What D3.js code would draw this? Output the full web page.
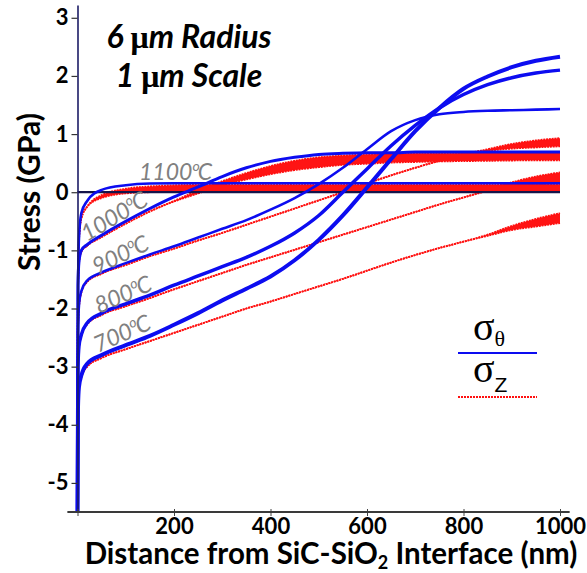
<!DOCTYPE html>
<html>
<head>
<meta charset="utf-8">
<script src="https://cdn.jsdelivr.net/npm/d3@7"></script>
<style>
  body { margin: 0; background: #fff; }
  svg { display: block; }
</style>
</head>
<body>
<div id="chart"></div>
<script>
// distance from the SiC-SiO2 interface (nm)
const distances = [0, 1, 3, 8, 20, 50, 100, 150, 200, 250, 300, 350, 400, 450, 500, 550, 600, 650, 700, 750, 800, 850, 900, 950, 1000];
const temperatures = ['700', '800', '900', '1000', '1100'];

// sigma theta (GPa), blue
const hoop700  = [-5.5, -3.7, -3.35, -3.15, -2.95, -2.8, -2.63, -2.47, -2.28, -2.08, -1.86, -1.66, -1.45, -1.17, -0.82, -0.4, 0.08, 0.57, 1.05, 1.45, 1.78, 1.99, 2.15, 2.26, 2.33];
const hoop800  = [-5.5, -3.0, -2.65, -2.45, -2.25, -2.08, -1.92, -1.77, -1.6, -1.44, -1.28, -1.12, -0.93, -0.7, -0.4, 0.0, 0.4, 0.8, 1.15, 1.45, 1.68, 1.85, 1.97, 2.05, 2.1];
const hoop900  = [-5.5, -2.4, -1.95, -1.7, -1.52, -1.38, -1.22, -1.07, -0.93, -0.78, -0.63, -0.48, -0.3, -0.1, 0.14, 0.42, 0.74, 1.05, 1.24, 1.34, 1.38, 1.4, 1.41, 1.42, 1.43];
const hoop1000 = [-5.5, -1.6, -1.2, -1.0, -0.9, -0.74, -0.5, -0.28, -0.08, 0.09, 0.27, 0.42, 0.53, 0.6, 0.65, 0.67, 0.68, 0.68, 0.69, 0.69, 0.69, 0.69, 0.69, 0.69, 0.69];
const hoop1100 = [-5.5, -1.8, -0.8, -0.36, -0.15, 0.04, 0.12, 0.15, 0.155, 0.155, 0.155, 0.155, 0.155, 0.155, 0.155, 0.155, 0.155, 0.155, 0.155, 0.155, 0.155, 0.155, 0.155, 0.155, 0.155];

// sigma z (GPa), red: lower and upper edge of each band
const axial700Lo  = [-5.5, -3.7, -3.37, -3.18, -3.0, -2.85, -2.7, -2.56, -2.42, -2.28, -2.14, -2.0, -1.88, -1.75, -1.62, -1.49, -1.35, -1.21, -1.08, -0.96, -0.85, -0.75, -0.65, -0.59, -0.53];
const axial700Hi  = [-5.5, -3.7, -3.37, -3.18, -3.0, -2.85, -2.7, -2.56, -2.42, -2.28, -2.14, -2.0, -1.88, -1.75, -1.62, -1.49, -1.35, -1.21, -1.08, -0.96, -0.85, -0.73, -0.58, -0.46, -0.36];
const axial800Lo  = [-5.5, -3.0, -2.67, -2.47, -2.27, -2.11, -1.96, -1.82, -1.67, -1.53, -1.39, -1.25, -1.12, -0.99, -0.86, -0.73, -0.6, -0.47, -0.34, -0.21, -0.09, 0.02, 0.09, 0.13, 0.15];
const axial800Hi  = [-5.5, -3.0, -2.67, -2.47, -2.27, -2.11, -1.96, -1.82, -1.67, -1.53, -1.39, -1.25, -1.12, -0.99, -0.86, -0.73, -0.6, -0.47, -0.34, -0.21, -0.09, 0.04, 0.17, 0.27, 0.34];
const axial900Lo  = [-5.5, -2.4, -1.97, -1.72, -1.54, -1.4, -1.25, -1.1, -0.97, -0.83, -0.7, -0.56, -0.42, -0.28, -0.14, 0.0, 0.15, 0.29, 0.42, 0.54, 0.64, 0.71, 0.75, 0.77, 0.79];
const axial900Hi  = [-5.5, -2.4, -1.97, -1.72, -1.54, -1.4, -1.25, -1.1, -0.97, -0.83, -0.7, -0.56, -0.42, -0.28, -0.14, 0.0, 0.15, 0.29, 0.42, 0.54, 0.65, 0.74, 0.83, 0.89, 0.93];
const axial1000Lo = [-5.5, -1.6, -1.22, -1.02, -0.92, -0.77, -0.54, -0.33, -0.16, -0.02, 0.12, 0.22, 0.31, 0.38, 0.43, 0.47, 0.49, 0.51, 0.52, 0.53, 0.535, 0.54, 0.545, 0.55, 0.55];
const axial1000Hi = [-5.5, -1.6, -1.22, -1.02, -0.92, -0.77, -0.54, -0.33, -0.15, 0.03, 0.19, 0.33, 0.45, 0.54, 0.6, 0.63, 0.65, 0.66, 0.67, 0.67, 0.675, 0.675, 0.68, 0.68, 0.68];
const axial1100Lo = [-5.5, -1.8, -0.82, -0.45, -0.25, -0.1, -0.02, 0.0, 0.01, 0.02, 0.02, 0.02, 0.02, 0.02, 0.02, 0.02, 0.02, 0.02, 0.02, 0.02, 0.02, 0.02, 0.02, 0.02, 0.02];
const axial1100Hi = [-5.5, -1.8, -0.82, -0.45, -0.25, -0.05, 0.06, 0.1, 0.12, 0.13, 0.13, 0.13, 0.13, 0.13, 0.13, 0.13, 0.13, 0.13, 0.13, 0.13, 0.13, 0.13, 0.13, 0.13, 0.13];

const xTicks = [0, 200, 400, 600, 800, 1000];
const yTicks = [-5, -4, -3, -2, -1, 0, 1, 2, 3];

const hoop = [hoop700, hoop800, hoop900, hoop1000, hoop1100];
const axialLo = [axial700Lo, axial800Lo, axial900Lo, axial1000Lo, axial1100Lo];
const axialHi = [axial700Hi, axial800Hi, axial900Hi, axial1000Hi, axial1100Hi];
const hoopWidth = [4, 3.5, 2.6, 3, 2.6];

const font = 'Lato, "Open Sans", sans-serif';
const width = 587, height = 573;

const svg = d3.select('#chart').append('svg')
    .attr('width', width)
    .attr('height', height);

const x = d3.scaleLinear().domain([0, 1000]).range([77.5, 560]);
const y = d3.scaleLinear().domain([-5.5, 3.22]).range([512, 5]);

const line = d3.line().x(d => x(d[0])).y(d => y(d[1])).curve(d3.curveMonotoneX);
const area = d3.area().x(d => x(d[0])).y0(d => y(d[1])).y1(d => y(d[2])).curve(d3.curveMonotoneX);

// sigma z bands
temperatures.forEach((t, i) => {
    const band = distances.map((d, j) => [d, axialLo[i][j], axialHi[i][j]]);
    svg.append('path')
        .attr('d', area(band))
        .attr('fill', '#ff1414')
        .attr('stroke', 'none');
    [axialLo[i], axialHi[i]].forEach(vals => {
        svg.append('path')
            .attr('d', line(distances.map((d, j) => [d, vals[j]])))
            .attr('fill', 'none')
            .attr('stroke', '#ff1010')
            .attr('stroke-width', 1.8)
            .attr('stroke-dasharray', '2,0.8');
    });
});

// zero reference line
svg.append('line')
    .attr('x1', x(0)).attr('x2', x(1000))
    .attr('y1', y(0)).attr('y2', y(0))
    .attr('stroke', '#14144a')
    .attr('stroke-width', 2.2);

// sigma theta lines
temperatures.forEach((t, i) => {
    svg.append('path')
        .attr('d', line(distances.map((d, j) => [d, hoop[i][j]])))
        .attr('fill', 'none')
        .attr('stroke', '#0c0cf0')
        .attr('stroke-width', hoopWidth[i]);
});

// axes
const yAxis = svg.append('g')
    .attr('transform', `translate(${x(0)}, 0)`)
    .call(d3.axisLeft(y).tickValues(yTicks).tickSize(6).tickSizeOuter(0).tickPadding(3).tickFormat(d => String(d)));
yAxis.select('.domain').attr('stroke', '#1c1c66').attr('stroke-width', 1.6);
yAxis.selectAll('.tick line').attr('stroke', '#333').attr('stroke-width', 1.2);
yAxis.selectAll('.tick text')
    .attr('font-family', font).attr('font-weight', 'bold').attr('font-size', '22px').attr('fill', '#000');

const xAxis = svg.append('g')
    .attr('transform', `translate(0, ${y(-5.5)})`)
    .call(d3.axisBottom(x).tickValues(xTicks).tickSize(4).tickSizeOuter(0).tickPadding(2).tickFormat(d => d ? String(d) : ''));
xAxis.select('.domain').remove();
xAxis.selectAll('.tick line').attr('stroke', '#444').attr('y1', -3).attr('stroke-width', 1);
xAxis.selectAll('.tick text')
    .attr('font-family', font).attr('font-weight', 'bold').attr('font-size', '22px').attr('fill', '#000');
svg.append('line')
    .attr('x1', x(-21)).attr('x2', x(1020))
    .attr('y1', y(-5.5)).attr('y2', y(-5.5))
    .attr('stroke', '#3a3a3a')
    .attr('stroke-width', 2);

// axis titles
const xTitle = svg.append('text')
    .attr('x', 331).attr('y', 564)
    .attr('text-anchor', 'middle')
    .attr('font-family', font).attr('font-weight', 'bold').attr('font-size', '29.5px');
xTitle.append('tspan').text('Distance from SiC-SiO');
xTitle.append('tspan').attr('font-size', '18px').attr('dy', 5).text('2');
xTitle.append('tspan').attr('dy', -5).text(' Interface (nm)');

svg.append('text')
    .attr('transform', 'translate(40, 192) rotate(-90)')
    .attr('text-anchor', 'middle')
    .attr('font-family', font).attr('font-weight', 'bold').attr('font-size', '30px')
    .text('Stress (GPa)');

// panel title
[['6 ', ' Radius', 48], ['1 ', ' Scale', 87]].forEach(([a, b, yy]) => {
    const t = svg.append('text')
        .attr('x', 189).attr('y', yy)
        .attr('text-anchor', 'middle')
        .attr('font-family', font).attr('font-weight', 'bold').attr('font-style', 'italic').attr('font-size', '32px');
    t.append('tspan').text(a);
    t.append('tspan').attr('font-style', 'normal').attr('font-family', '"Liberation Serif", serif').text('\u03bc');
    t.append('tspan').text('m' + b);
});

// temperature labels
const labelPos = [[98, 353, -24, 23], [99, 314, -24, 23], [97, 275, -26, 23], [87, 242, -31, 23], [139, 180, 0, 23]];
temperatures.forEach((t, i) => {
    const [lx, ly, rot, size] = labelPos[i];
    const txt = svg.append('text')
        .attr('transform', `translate(${lx}, ${ly}) rotate(${rot})`)
        .attr('font-family', font).attr('font-style', 'italic').attr('font-size', size + 'px')
        .attr('fill', '#808080');
    txt.append('tspan').text(t);
    txt.append('tspan').attr('font-size', '14px').attr('dy', -9).text('o');
    txt.append('tspan').attr('dy', 9).attr('dx', -2).text('C');
});

// legend
const legend = svg.append('g');
const l1 = legend.append('text').attr('x', 473).attr('y', 340)
    .attr('font-family', '"Liberation Serif", serif').attr('font-size', '40px');
l1.append('tspan').text('\u03c3');
l1.append('tspan').attr('font-size', '22px').attr('dy', 6).text('\u03b8');
legend.append('line').attr('x1', 458).attr('x2', 537).attr('y1', 353).attr('y2', 353)
    .attr('stroke', '#0c0cf0').attr('stroke-width', 2);
const l2 = legend.append('text').attr('x', 473).attr('y', 382)
    .attr('font-family', '"Liberation Serif", serif').attr('font-size', '40px');
l2.append('tspan').text('\u03c3');
l2.append('tspan').attr('font-family', '"Liberation Sans", sans-serif').attr('font-size', '21px').attr('dy', 10).text('Z');
legend.append('line').attr('x1', 458).attr('x2', 537).attr('y1', 397).attr('y2', 397)
    .attr('stroke', '#ff1010').attr('stroke-width', 2).attr('stroke-dasharray', '2,1');
</script>
</body>
</html>
